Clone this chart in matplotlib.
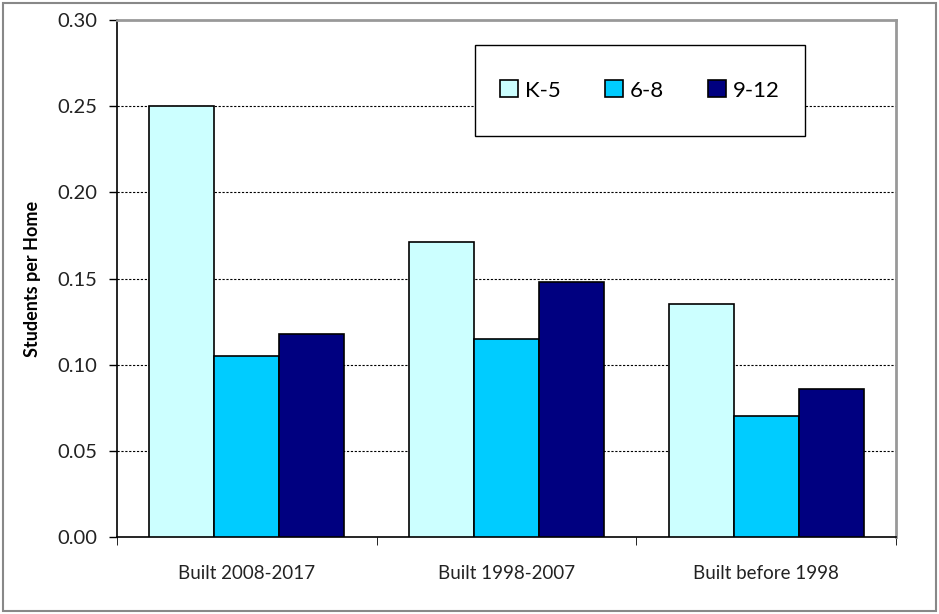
import matplotlib.pyplot as plt
import matplotlib.patches as patches
import numpy as np

plt.rcParams['font.family'] = ['Lato', 'DejaVu Sans']

# data
categories = ["Built 2008-2017", "Built 1998-2007", "Built before 1998"]
series_names = ["K-5", "6-8", "9-12"]
k5 = [0.250, 0.171, 0.135]
g6_8 = [0.105, 0.115, 0.070]
g9_12 = [0.118, 0.148, 0.086]
colors = ["#CCFFFF", "#00CCFF", "#000080"]

fig = plt.figure(figsize=(9.39, 6.14), dpi=100)
ax = fig.add_axes([0.1246, 0.1254, 0.8296, 0.842])

x = np.arange(len(categories))
width = 0.25
for i, (vals, name) in enumerate(zip([k5, g6_8, g9_12], series_names)):
    ax.bar(x + (i - 1) * width, vals, width, color=colors[i], edgecolor="black",
           linewidth=1.2, label=name, zorder=3)

ax.set_xlim(-0.5, len(categories) - 0.5)
ax.set_ylim(0, 0.30)
ax.set_yticks(np.arange(0, 0.31, 0.05))
ax.set_yticklabels([f"{v:.2f}" for v in np.arange(0, 0.31, 0.05)], fontsize=14.5, color="#222222")
ax.set_xticks(x)
ax.set_xticklabels(categories, fontsize=13.5, color="#222222")
ax.tick_params(axis="x", length=0, pad=20)
ax.set_xticks(np.arange(-0.5, len(categories), 1), minor=True)
ax.tick_params(axis="x", which="minor", length=6, direction="out")
ax.tick_params(axis="y", length=6, direction="out", width=1, pad=8)

# dashed gridlines
for v in np.arange(0.05, 0.26, 0.05):
    ax.axhline(v, color="black", linestyle=(0, (2, 1.5)), linewidth=0.8, zorder=1)

ax.set_ylabel("Students per Home", fontsize=13, fontweight="bold", labelpad=12)

for s in ["top", "right"]:
    ax.spines[s].set_color("#999999")
    ax.spines[s].set_linewidth(2)
for s in ["left", "bottom"]:
    ax.spines[s].set_color("black")
    ax.spines[s].set_linewidth(1.2)

# legend box
box = patches.Rectangle((0.4596, 0.7756), 0.4236, 0.176, transform=ax.transAxes,
                        facecolor="white", edgecolor="black", linewidth=1.0, zorder=5)
ax.add_patch(box)
leg = ax.legend(loc="center", bbox_to_anchor=(0.4596 + 0.4236 / 2, 0.7756 + 0.176 / 2),
                ncol=3, frameon=False, fontsize=16, handlelength=0.8, handleheight=0.8,
                columnspacing=2.0, handletextpad=0.3)
leg.set_zorder(6)

# outer border
fig.patches.append(patches.Rectangle((0.003, 0.005), 0.994, 0.99, transform=fig.transFigure,
                                     fill=False, edgecolor="#888888", linewidth=1.5))

fig.savefig("out.png", dpi=100)
